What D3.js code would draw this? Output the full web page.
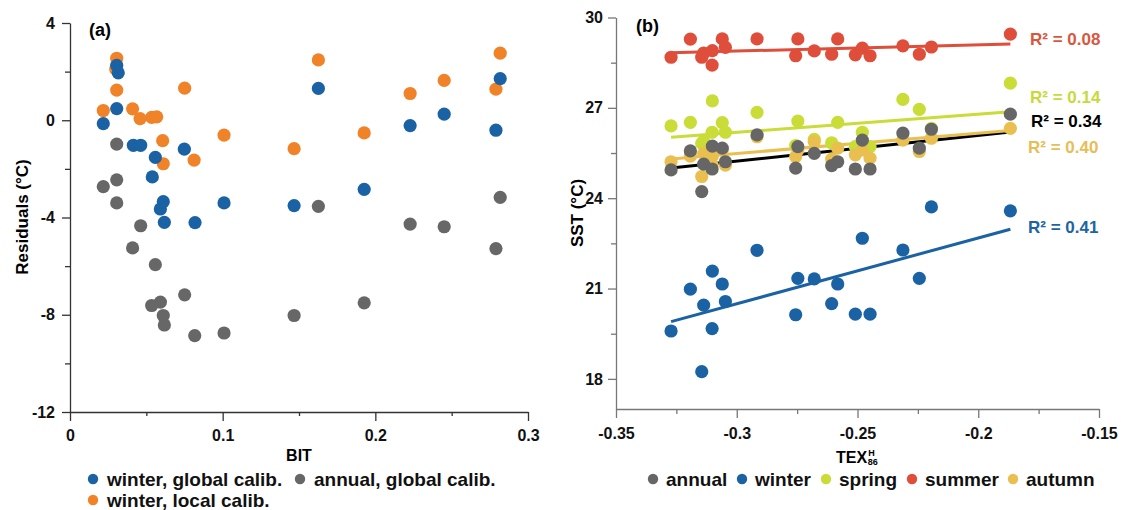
<!DOCTYPE html>
<html>
<head>
<meta charset="utf-8">
<script src="https://cdn.jsdelivr.net/npm/d3@7"></script>
<style>
  html, body { margin: 0; padding: 0; background: #fff; }
  svg { display: block; font-family: "Liberation Sans", Arial, sans-serif; font-weight: bold; }
</style>
</head>
<body>
<svg id="chart" width="1121" height="510"></svg>
<script>
// ---------- Panel (a): residuals vs BIT ----------
const winterGlobalBIT = [0.0306, 0.0316, 0.0306, 0.0218, 0.0415, 0.0463, 0.0559, 0.0749, 0.0539, 0.0611, 0.0592, 0.0618, 0.0819, 0.1009, 0.1468, 0.1627, 0.1927, 0.2228, 0.2451, 0.2818, 0.2790];
const winterGlobalRes = [2.26, 1.95, 0.48, -0.14, -1.03, -1.03, -1.53, -1.19, -2.33, -3.35, -3.65, -4.20, -4.21, -3.40, -3.51, 1.31, -2.84, -0.22, 0.25, 1.71, -0.41];

const winterLocalBIT = [0.0306, 0.0300, 0.0306, 0.0218, 0.0410, 0.0459, 0.0535, 0.0568, 0.0751, 0.0607, 0.0611, 0.0813, 0.1009, 0.1468, 0.1627, 0.1927, 0.2228, 0.2451, 0.2818, 0.2790];
const winterLocalRes = [2.55, 2.10, 1.24, 0.40, 0.47, 0.07, 0.12, 0.14, 1.32, -0.84, -1.79, -1.64, -0.61, -1.17, 2.48, -0.52, 1.10, 1.64, 2.76, 1.28];

const annualGlobalBIT = [0.0306, 0.0218, 0.0306, 0.0306, 0.0463, 0.0410, 0.0559, 0.0535, 0.0592, 0.0611, 0.0618, 0.0751, 0.0817, 0.1009, 0.1468, 0.1927, 0.1627, 0.2228, 0.2451, 0.2818, 0.2790];
const annualGlobalRes = [-0.98, -2.73, -2.45, -3.40, -4.34, -5.25, -5.94, -7.62, -7.48, -8.03, -8.42, -7.18, -8.86, -8.75, -8.03, -7.51, -3.54, -4.27, -4.38, -3.17, -5.28];

const bitTicks = [0, 0.1, 0.2, 0.3];
const bitMinorTicks = [0.05, 0.15, 0.25];
const resTicks = [4, 0, -4, -8, -12];
const resMinorTicks = [2, -2, -6, -10];

// ---------- Panel (b): SST vs TEX86H ----------
const tex = [-0.3272, -0.3192, -0.3145, -0.3137, -0.3102, -0.3101, -0.3060, -0.3047, -0.2916, -0.2756, -0.2747, -0.2679, -0.2607, -0.2582, -0.2509, -0.2480, -0.2448, -0.2312, -0.2244, -0.2194, -0.1867];
const sstAnnual = [24.94, 25.57, 24.22, 25.13, 24.97, 25.73, 25.66, 25.21, 26.10, 25.00, 25.71, 25.49, 25.08, 25.21, 24.97, 25.93, 24.97, 26.16, 25.66, 26.29, 26.79];
const sstWinter = [19.59, 20.98, 18.24, 20.45, 19.67, 21.58, 21.15, 20.57, 22.27, 20.13, 21.34, 21.32, 20.50, 21.15, 20.15, 22.67, 20.15, 22.28, 21.34, 23.71, 23.58];
const sstSpring = [26.40, 26.52, 25.82, 25.90, 26.19, 27.23, 26.51, 26.19, 26.85, 25.75, 26.56, 25.95, 25.84, 26.52, 25.71, 26.19, 25.71, 27.28, 26.95, 26.32, 27.82];
const sstSummer = [28.68, 29.28, 28.68, 28.82, 28.42, 28.90, 29.29, 29.01, 29.29, 28.73, 29.29, 28.89, 28.78, 29.29, 28.76, 28.98, 28.73, 29.06, 28.78, 29.02, 29.45];
const sstAutumn = [25.21, 25.40, 24.72, 25.49, 25.10, 25.40, 25.60, 25.10, 26.04, 25.38, 25.60, 25.88, 25.30, 25.66, 25.44, 25.60, 25.33, 25.93, 25.55, 25.99, 26.32];

// regression line ends [sst at tex min, sst at tex max] and R² labels
const seasons = ["annual", "winter", "spring", "summer", "autumn"];
const trendStart = { annual: 25.00, winter: 19.90, spring: 26.02, summer: 28.83, autumn: 25.30 };
const trendEnd   = { annual: 26.20, winter: 22.97, spring: 26.87, summer: 29.12, autumn: 26.25 };
const rSquared   = { annual: "0.34", winter: "0.41", spring: "0.14", summer: "0.08", autumn: "0.40" };

const texTicks = [-0.35, -0.3, -0.25, -0.2, -0.15];
const texMinorTicks = [-0.325, -0.275, -0.225, -0.175];
const sstTicks = [30, 27, 24, 21, 18];
const sstMinorTicks = [28.5, 25.5, 22.5, 19.5];

// ---------- styles ----------
const colA = { winterGlobal: "#1a62a3", winterLocal: "#f08228", annualGlobal: "#676767" };
const colB = { annual: "#666666", winter: "#1a62a3", spring: "#c9dc37", summer: "#de4e3b", autumn: "#e9bf50" };
const labelCol = { annual: "#000000", winter: "#1d64a3", spring: "#c8da3b", summer: "#d9573f", autumn: "#e6be58" };

const svg = d3.select("#chart");
const R = 6.6;

function zip(xs, ys) { return xs.map((x, i) => [x, ys[i]]); }

function drawAxes(g, x, y, opt) {
  const fmt = d => String(d);
  g.append("g").attr("transform", `translate(0,${opt.y0})`)
    .call(d3.axisBottom(x).tickValues(opt.xTicks).tickFormat(fmt).tickSize(opt.xMajor).tickSizeOuter(0).tickPadding(opt.xPad));
  g.append("g").attr("transform", `translate(0,${opt.y0})`)
    .call(d3.axisBottom(x).tickValues(opt.xMinor).tickFormat("").tickSize(opt.xMinorLen).tickSizeOuter(0))
    .call(a => a.select(".domain").remove());
  g.append("g").attr("transform", `translate(${opt.x0},0)`)
    .call(d3.axisLeft(y).tickValues(opt.yTicks).tickFormat(fmt).tickSize(opt.yMajor).tickSizeOuter(0).tickPadding(opt.yPad));
  g.append("g").attr("transform", `translate(${opt.x0},0)`)
    .call(d3.axisLeft(y).tickValues(opt.yMinor).tickFormat("").tickSize(opt.yMinorLen).tickSizeOuter(0))
    .call(a => a.select(".domain").remove());
  g.selectAll(".domain, .tick line").attr("stroke", opt.axisColor).attr("stroke-width", 1.3);
  g.selectAll(".tick text").attr("fill", "#111").style("font-size", "16px").style("font-weight", "bold")
    .style("font-family", "'Liberation Sans', Arial, sans-serif");
}

// ---------- panel (a) ----------
const xA = d3.scaleLinear().domain([0, 0.3]).range([70, 528]);
const yA = d3.scaleLinear().domain([-12, 4]).range([412, 23]);
const gA = svg.append("g");
drawAxes(gA, xA, yA, {
  y0: 412, x0: 70, xTicks: bitTicks, xMinor: bitMinorTicks, yTicks: resTicks, yMinor: resMinorTicks,
  xMajor: 9, xMinorLen: 4, yMajor: 8, yMinorLen: 5, xPad: 9, yPad: 7, axisColor: "#333"
});

const seriesA = [
  { key: "annualGlobal", pts: zip(annualGlobalBIT, annualGlobalRes) },
  { key: "winterLocal", pts: zip(winterLocalBIT, winterLocalRes) },
  { key: "winterGlobal", pts: zip(winterGlobalBIT, winterGlobalRes) }
];
seriesA.forEach(s => {
  gA.append("g").selectAll("circle").data(s.pts).join("circle")
    .attr("cx", d => xA(d[0])).attr("cy", d => yA(d[1])).attr("r", R)
    .attr("fill", colA[s.key]);
});

gA.append("text").attr("x", 89).attr("y", 36).style("font-size", "18px").text("(a)");
gA.append("text").attr("x", 299).attr("y", 461).attr("text-anchor", "middle").style("font-size", "16px").text("BIT");
gA.append("text").attr("transform", "translate(28,217) rotate(-90)").attr("text-anchor", "middle")
  .style("font-size", "17px").text("Residuals (°C)");

// legend (a)
const legA = [
  { key: "winterGlobal", label: "winter, global calib.", x: 93, y: 479 },
  { key: "annualGlobal", label: "annual, global calib.", x: 300, y: 479 },
  { key: "winterLocal", label: "winter, local calib.", x: 93, y: 500 }
];
legA.forEach(l => {
  gA.append("circle").attr("cx", l.x).attr("cy", l.y).attr("r", 5.2).attr("fill", colA[l.key]);
  gA.append("text").attr("x", l.x + 14).attr("y", l.y + 6.5).style("font-size", "19px").attr("fill", "#111").text(l.label);
});

// ---------- panel (b) ----------
const xB = d3.scaleLinear().domain([-0.35, -0.15]).range([616, 1099]);
const yB = d3.scaleLinear().domain([17, 30]).range([409, 17.5]);
const gB = svg.append("g");
drawAxes(gB, xB, yB, {
  y0: 409, x0: 616, xTicks: texTicks, xMinor: texMinorTicks, yTicks: sstTicks, yMinor: sstMinorTicks,
  xMajor: 9, xMinorLen: 5, yMajor: 8, yMinorLen: 5, xPad: 10, yPad: 5, axisColor: "#777"
});

const sstBySeason = { annual: sstAnnual, winter: sstWinter, spring: sstSpring, summer: sstSummer, autumn: sstAutumn };
const texMin = d3.min(tex), texMax = d3.max(tex);

// regression lines
seasons.forEach(s => {
  gB.append("line")
    .attr("x1", xB(texMin)).attr("y1", yB(trendStart[s]))
    .attr("x2", xB(texMax)).attr("y2", yB(trendEnd[s]))
    .attr("stroke", s === "annual" ? "#000" : colB[s]).attr("stroke-width", 3);
});

// points, drawn back to front
["summer", "spring", "autumn", "annual", "winter"].forEach(s => {
  gB.append("g").selectAll("circle").data(zip(tex, sstBySeason[s])).join("circle")
    .attr("cx", d => xB(d[0])).attr("cy", d => yB(d[1])).attr("r", R)
    .attr("fill", colB[s]);
});

// R² labels
const r2Pos = { summer: [1030, 45], spring: [1030, 103], annual: [1031, 127], autumn: [1028, 153], winter: [1028, 233] };
seasons.forEach(s => {
  gB.append("text").attr("x", r2Pos[s][0]).attr("y", r2Pos[s][1])
    .style("font-size", "17px").attr("fill", labelCol[s])
    .text("R² = " + rSquared[s]);
});

gB.append("text").attr("x", 636).attr("y", 32).style("font-size", "18px").text("(b)");
gB.append("text").attr("transform", "translate(583,213) rotate(-90)").attr("text-anchor", "middle")
  .style("font-size", "17px").text("SST (°C)");

// x title: TEX with stacked H / 86
const texTitle = gB.append("text").attr("x", 836).attr("y", 463).style("font-size", "16px").text("TEX");
const tw = texTitle.node().getComputedTextLength();
gB.append("text").attr("x", 836 + tw + 1).attr("y", 456).style("font-size", "9px").text("H");
gB.append("text").attr("x", 836 + tw + 0.5).attr("y", 465).style("font-size", "9px").text("86");

// legend (b)
const legB = [
  { key: "annual", x: 653 }, { key: "winter", x: 742 }, { key: "spring", x: 826 },
  { key: "summer", x: 912 }, { key: "autumn", x: 1013 }
];
legB.forEach(l => {
  gB.append("circle").attr("cx", l.x).attr("cy", 479).attr("r", 5.2).attr("fill", colB[l.key]);
  gB.append("text").attr("x", l.x + 13).attr("y", 486).style("font-size", "19px").attr("fill", "#111").text(l.key);
});
</script>
</body>
</html>
